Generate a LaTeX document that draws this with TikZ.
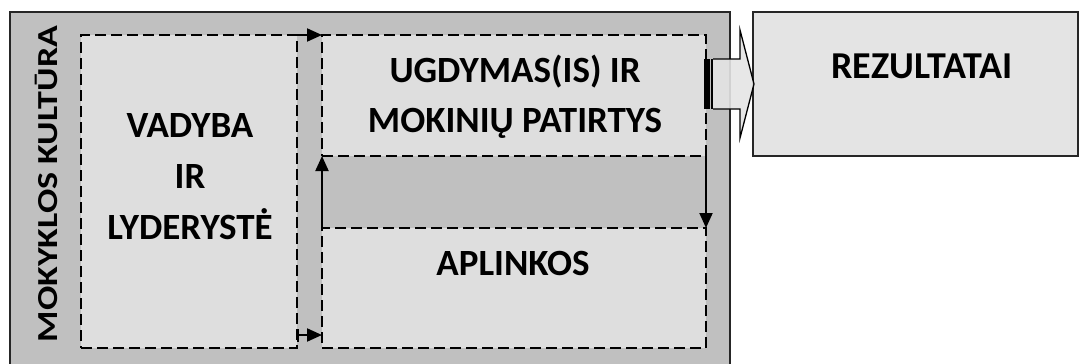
\documentclass[tikz,border=0pt]{standalone}
\usepackage{fontspec}
\setmainfont{Carlito}
\usepackage{graphicx}
\usepackage{xcolor}
\usepackage{tikz}
\usetikzlibrary{arrows.meta, positioning}

\definecolor{cultgray}{HTML}{C0C0C0}
\definecolor{areagray}{HTML}{DEDEDE}
\definecolor{resgray}{HTML}{E4E4E4}

\begin{document}
\begin{tikzpicture}[
        x=1pt, y=-1pt,
        every node/.style={inner sep=0pt, outer sep=0pt},
        culture/.style={rectangle, draw=black!85, line width=1.5pt, fill=cultgray, anchor=north west},
        area/.style={rectangle, draw, line width=2pt, dash pattern=on 11pt off 5pt, fill=areagray, anchor=north west},
        result/.style={rectangle, draw=black!85, line width=1.5pt, fill=resgray, anchor=north west},
        caption/.style={font=\bfseries\fontsize{37}{51}\selectfont, align=center},
        flow/.style={line width=2pt, -{Triangle[length=15pt, width=13pt]}}
    ]
        \useasboundingbox (0,0) rectangle (1079,364);

        \node[culture, minimum width=720, minimum height=356] (school) at (10,12) {};
        \node[area, minimum width=216, minimum height=313] (vadyba) at (81,35) {};
        \node[area, minimum width=384, minimum height=121] (ugdymas) at (322,35) {};
        \node[area, minimum width=384, minimum height=120] (aplinkos) at (322,228) {};
        \node[result, minimum width=325, minimum height=144] (rezultatai) at (753,12) {};

        % texts
        \node[caption, rotate=90, font=\bfseries\fontsize{29}{34}\selectfont] (schooltext) at (46,184) {\scalebox{1.24}[1]{MOKYKLOS KULTŪRA}};
        \node[caption] (vadybatext) at (190,177) {VADYBA\\IR\\LYDERYSTĖ};
        \node[caption, font=\bfseries\fontsize{37}{50}\selectfont] (ugdymastext) at (515,97) {UGDYMAS(IS) IR\\MOKINIŲ PATIRTYS};
        \node[caption] (aplinkostext) at (513,263) {APLINKOS};
        \node[caption, font=\bfseries\fontsize{38}{40}\selectfont] (rezultataitext) at (922,66) {REZULTATAI};

        % flows between the areas
        \draw[flow] (vadyba.north east) -- (ugdymas.north west);
        \draw[flow, {Bar[width=13pt, line width=2pt]}-{Triangle[length=15pt, width=13pt]}] ([yshift=13pt]vadyba.south east) -- ([yshift=13pt]aplinkos.south west);
        \draw[flow] (aplinkos.north west) -- (ugdymas.south west);
        \draw[flow] (ugdymas.south east) -- (aplinkos.north east);

        % block arrow to the results
        \draw[line width=1.3pt, fill=resgray, fill opacity=0.9] (713,59) -- (740,59) -- (740,30) -- (754,84) -- (740,138) -- (740,109) -- (713,109);
        \fill (704,59) rectangle (710,109);
        \draw[line width=1.3pt] (712,59) -- (712,109);
    \end{tikzpicture}
\end{document}
